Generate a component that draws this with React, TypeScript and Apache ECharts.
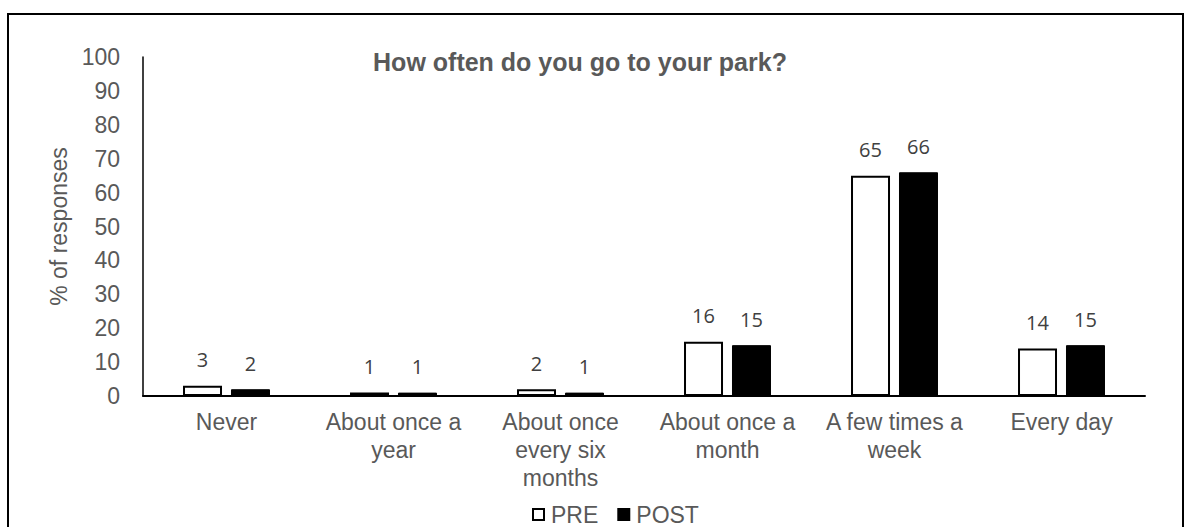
import React, { useEffect, useRef } from "react";
import * as echarts from "echarts";

const categories = [
  "Never",
  "About once a\nyear",
  "About once\nevery six\nmonths",
  "About once a\nmonth",
  "A few times a\nweek",
  "Every day",
];
const preValues = [3, 1, 2, 16, 65, 14];
const postValues = [2, 1, 1, 15, 66, 15];
const titleText = "How often do you go to your park?";
const yAxisName = "% of responses";

export default function App() {
  const ref = useRef<HTMLDivElement>(null);
  useEffect(() => {
    if (!ref.current) return;
    const chart = echarts.init(ref.current, null, { renderer: "svg" });
    const gray = "#595959";
    const labelStyle = {
      show: true,
      position: "top" as const,
      distance: 16,
      fontFamily: "Open Sans",
      fontSize: 20,
      color: "#404040",
    };
    chart.setOption({
      animation: false,
      backgroundColor: "#ffffff",
      graphic: [
        {
          type: "rect",
          shape: { x: 8, y: 14, width: 1175, height: 540 },
          style: { fill: "none", stroke: "#000", lineWidth: 2 },
          silent: true,
        },
      ],
      title: {
        text: titleText,
        left: 575,
        textAlign: "center",
        top: 44,
        textStyle: {
          fontFamily: "Liberation Sans",
          fontSize: 25,
          fontWeight: "bold",
          color: gray,
        },
      },
      legend: {
        top: 503,
        left: 527,
        padding: [0, 5],
        itemWidth: 11,
        itemHeight: 11,
        itemGap: 19,
        icon: "rect",
        textStyle: {
          fontFamily: "Liberation Sans",
          fontSize: 23,
          lineHeight: 22,
          color: gray,
          padding: [0, 0, 0, 2],
        },
        data: [
          { name: "PRE", itemStyle: { color: "#fff", borderColor: "#000", borderWidth: 2 } },
          { name: "POST", itemStyle: { color: "#000" } },
        ],
      },
      grid: { left: 143, right: 47, top: 57, bottom: 131, containLabel: false },
      xAxis: {
        type: "category",
        data: categories,
        axisLine: { show: true, lineStyle: { color: "#000", width: 2 } },
        axisTick: { show: false },
        axisLabel: {
          interval: 0,
          margin: 12,
          fontFamily: "Liberation Sans",
          fontSize: 23,
          lineHeight: 28,
          color: gray,
        },
      },
      yAxis: {
        type: "value",
        min: 0,
        max: 100,
        interval: 10,
        name: yAxisName,
        nameLocation: "middle",
        nameGap: 73,
        nameTextStyle: { fontFamily: "Liberation Sans", fontSize: 23, color: gray },
        axisLine: { show: true, lineStyle: { color: "#000", width: 1.5 } },
        axisTick: { show: false },
        splitLine: { show: false },
        axisLabel: {
          margin: 23,
          fontFamily: "Liberation Sans",
          fontSize: 23,
          color: gray,
        },
      },
      series: [
        {
          name: "PRE",
          type: "bar",
          data: preValues,
          barWidth: 39,
          barGap: "23%",
          itemStyle: { color: "#fff", borderColor: "#000", borderWidth: 2 },
          label: labelStyle,
        },
        {
          name: "POST",
          type: "bar",
          data: postValues,
          barWidth: 39,
          itemStyle: { color: "#000", borderColor: "#000", borderWidth: 1 },
          label: labelStyle,
        },
      ],
    });
    return () => chart.dispose();
  }, []);
  return (
    <div
      ref={ref}
      style={{ position: "absolute", left: 0, top: 0, width: 1192, height: 527 }}
    />
  );
}
